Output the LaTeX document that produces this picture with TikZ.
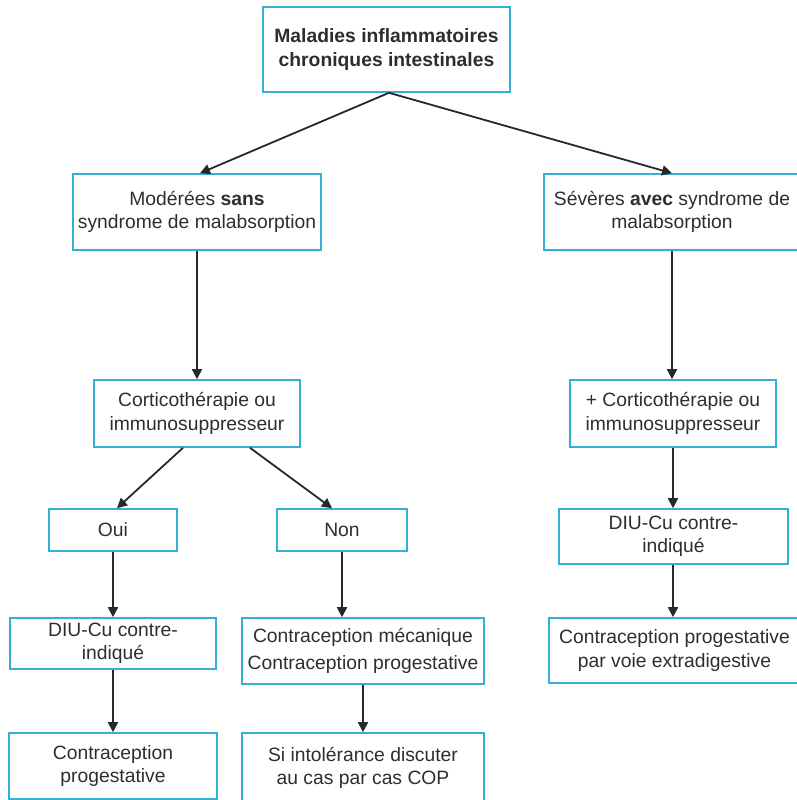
\documentclass[tikz,border=0pt]{standalone}
\usepackage{fontspec}
\setmainfont{Liberation Sans}
\usetikzlibrary{arrows.meta}
\definecolor{boxc}{RGB}{52,176,212}
\definecolor{txtc}{RGB}{45,45,50}
\definecolor{arrc}{RGB}{40,40,40}
\tikzset{
  box/.style={draw=boxc, line width=1.6pt, align=center, text=txtc, inner sep=0pt,
    font=\fontsize{19.3}{23.5}\selectfont},
  arr/.style={draw=arrc, line width=1.8pt, -{Triangle[length=10pt,width=10pt]}}
}
\begin{document}
\begin{tikzpicture}[x=1pt,y=-1pt]
\useasboundingbox (0,0) rectangle (797,800);
\node[box, minimum width=247pt, minimum height=85pt] (top) at (386.5,49.5) {\textbf{Maladies inflammatoires}\\\textbf{chroniques intestinales}};
\node[box, minimum width=248pt, minimum height=76pt] (mod) at (197,212) {Modérées \textbf{sans}\\syndrome de malabsorption};
\node[box, minimum width=256pt, minimum height=76pt] (sev) at (672,212) {Sévères \textbf{avec} syndrome de\\malabsorption};
\node[box, minimum width=206pt, minimum height=67pt] (cort) at (197,413.5) {Corticothérapie ou\\immunosuppresseur};
\node[box, minimum width=206pt, minimum height=67pt] (cort2) at (673,413.5) {+ Corticothérapie ou\\immunosuppresseur};
\node[box, minimum width=128pt, minimum height=42pt] (oui) at (113,530) {Oui};
\node[box, minimum width=130pt, minimum height=42pt] (non) at (342,530) {Non};
\node[box, minimum width=229pt, minimum height=55pt] (diu2) at (673.5,536.5) {DIU-Cu contre-\\indiqué};
\node[box, minimum width=206pt, minimum height=51pt] (diu1) at (113,643.5) {DIU-Cu contre-\\indiqué};
\node[box, minimum width=242pt, minimum height=66pt] (meca) at (363,651) {Contraception mécanique\\[3pt]Contraception progestative};
\node[box, minimum width=251pt, minimum height=65pt] (prog2) at (674.5,650.5) {Contraception progestative\\par voie extradigestive};
\node[box, minimum width=208pt, minimum height=66pt] (prog1) at (113,766) {Contraception\\progestative};
\node[box, minimum width=242pt, minimum height=70pt] (si) at (363,768) {Si intolérance discuter\\au cas par cas COP};
% connectors
\draw[arr] ([xshift=2.5pt]top.south) -- ([xshift=3pt]mod.north);
\draw[arr] ([xshift=2.5pt]top.south) -- (sev.north);
\draw[arr] (mod.south) -- (cort.north);
\draw[arr] ([xshift=-14pt]cort.south) -- ([xshift=4pt]oui.north);
\draw[arr] ([xshift=53pt]cort.south) -- ([xshift=-10pt]non.north);
\draw[arr] (oui.south) -- (oui.south |- diu1.north);
\draw[arr] (non.south) -- (non.south |- meca.north);
\draw[arr] (diu1.south) -- (diu1.south |- prog1.north);
\draw[arr] (meca.south) -- (meca.south |- si.north);
\draw[arr] (sev.south) -- (sev.south |- cort2.north);
\draw[arr] (cort2.south) -- (cort2.south |- diu2.north);
\draw[arr] (cort2.south |- diu2.south) -- (cort2.south |- prog2.north);
\end{tikzpicture}
\end{document}
